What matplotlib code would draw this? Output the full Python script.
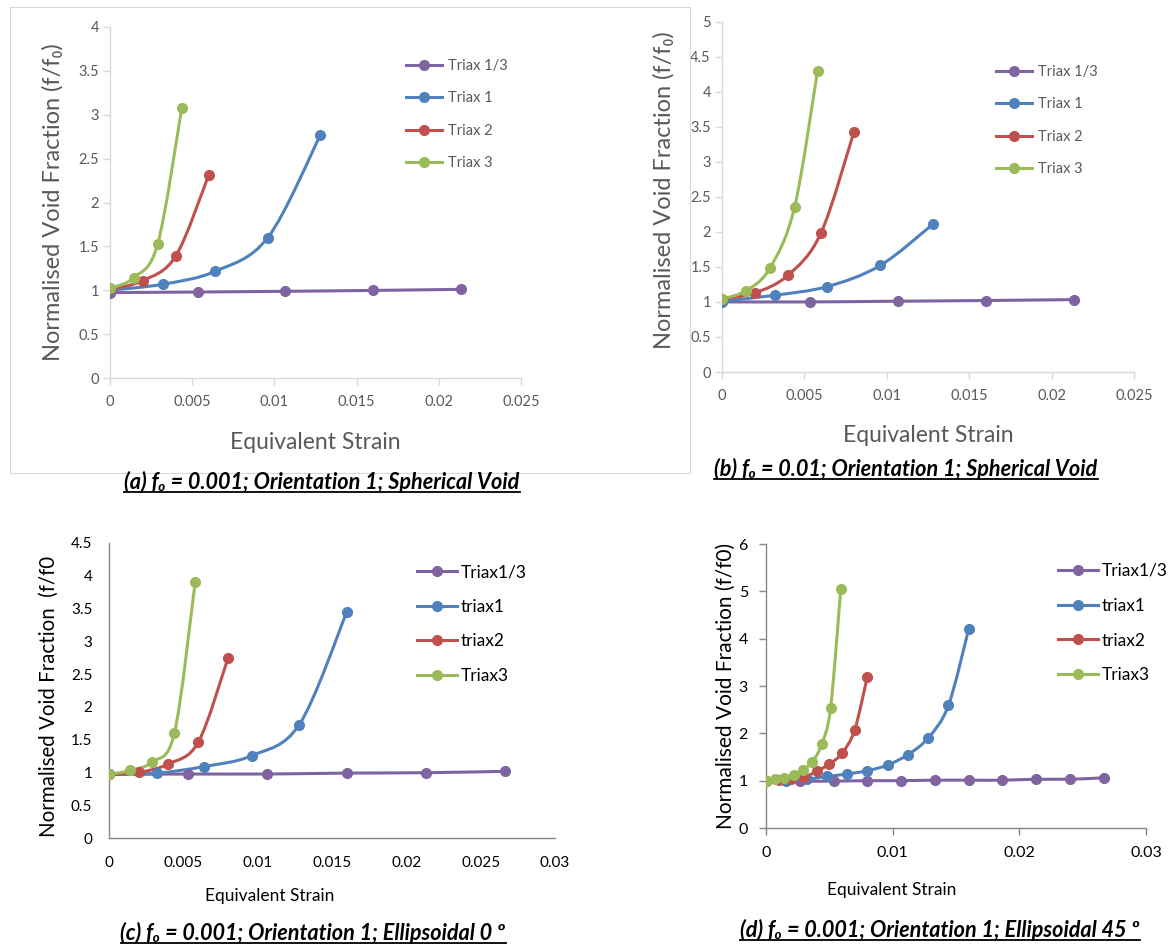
import numpy as np
import matplotlib
matplotlib.use("Agg")
import matplotlib.pyplot as plt
from matplotlib.path import Path
from matplotlib.patches import PathPatch, Rectangle
from matplotlib.lines import Line2D

plt.rcParams['font.family'] = ['Lato', 'DejaVu Sans']

# ---- data ----
# (a) f0 = 0.001, spherical void
a_x13 = [0, 0.00533, 0.01066, 0.016, 0.02133]
a_y13 = [0.973, 0.98, 0.988, 0.998, 1.01]
a_x1 = [0, 0.0032, 0.0064, 0.0096, 0.0128]
a_y1 = [1.0, 1.068, 1.216, 1.6, 2.77]
a_x2 = [0, 0.002, 0.004, 0.006]
a_y2 = [1.01, 1.11, 1.39, 2.31]
a_x3 = [0, 0.00146, 0.0029, 0.00437]
a_y3 = [1.02, 1.144, 1.527, 3.08]

# (b) f0 = 0.01, spherical void
b_x13 = [0, 0.00533, 0.01066, 0.016, 0.02133]
b_y13 = [1.0, 1.0, 1.01, 1.02, 1.033]
b_x1 = [0, 0.0032, 0.0064, 0.0096, 0.0128]
b_y1 = [1.01, 1.095, 1.22, 1.52, 2.11]
b_x2 = [0, 0.002, 0.004, 0.006, 0.008]
b_y2 = [1.04, 1.13, 1.38, 1.98, 3.42]
b_x3 = [0, 0.00146, 0.0029, 0.0044, 0.0058]
b_y3 = [1.04, 1.16, 1.48, 2.35, 4.30]

# (c) f0 = 0.001, ellipsoidal 0 deg
c_x13 = [0, 0.00533, 0.01066, 0.016, 0.02133, 0.02666]
c_y13 = [0.97, 0.976, 0.976, 0.99, 0.996, 1.017]
c_x1 = [0, 0.00325, 0.0064, 0.0096, 0.0128, 0.016]
c_y1 = [0.97, 0.99, 1.09, 1.256, 1.73, 3.45]
c_x2 = [0, 0.002, 0.004, 0.006, 0.008]
c_y2 = [0.97, 1.0, 1.13, 1.46, 2.74]
c_x3 = [0, 0.00144, 0.0029, 0.0044, 0.0058]
c_y3 = [0.97, 1.03, 1.16, 1.6, 3.91]

# (d) f0 = 0.001, ellipsoidal 45 deg
d_x13 = [0, 0.00267, 0.00533, 0.008, 0.01066, 0.01333, 0.016, 0.01866, 0.02133, 0.024, 0.02666]
d_y13 = [1.0, 0.99, 0.99, 1.0, 1.0, 1.01, 1.01, 1.01, 1.03, 1.03, 1.06]
d_x1 = [0, 0.0016, 0.0032, 0.0048, 0.0064, 0.008, 0.0096, 0.0112, 0.0128, 0.0144, 0.016]
d_y1 = [1.0, 1.0, 1.03, 1.09, 1.14, 1.21, 1.33, 1.55, 1.9, 2.59, 4.2]
d_x2 = [0, 0.001, 0.002, 0.003, 0.004, 0.005, 0.006, 0.007, 0.008]
d_y2 = [1.0, 1.01, 1.03, 1.07, 1.2, 1.35, 1.58, 2.07, 3.2]
d_x3 = [0, 0.00073, 0.00146, 0.0022, 0.0029, 0.00366, 0.0044, 0.0051, 0.0059]
d_y3 = [1.0, 1.03, 1.06, 1.11, 1.22, 1.4, 1.77, 2.54, 5.04]

labels_ab = ['Triax 1/3', 'Triax 1', 'Triax 2', 'Triax 3']
labels_cd = ['Triax1/3', 'triax1', 'triax2', 'Triax3']
captions = ['(a) f\u2080 = 0.001; Orientation 1; Spherical Void',
            '(b) f\u2080 = 0.01; Orientation 1; Spherical Void',
            '(c) f\u2080 = 0.001; Orientation 1; Ellipsoidal 0 \u00ba',
            '(d) f\u2080 = 0.001; Orientation 1; Ellipsoidal 45 \u00ba']

colors = ['#8064A2', '#4F81BD', '#C0504D', '#9BBB59']

W, H = 1168, 948
fig = plt.figure(figsize=(W / 100, H / 100), dpi=100)


def px_axes(l, t, r, b):
    return fig.add_axes([l / W, 1 - b / H, (r - l) / W, (b - t) / H])


def smooth_path(x, y):
    # Excel-style smoothed line (Catmull-Rom as cubic bezier)
    p = np.column_stack([x, y]).astype(float)
    n = len(p)
    verts = [p[0]]
    codes = [Path.MOVETO]
    for i in range(n - 1):
        p0 = p[max(i - 1, 0)]
        p1 = p[i]
        p2 = p[i + 1]
        p3 = p[min(i + 2, n - 1)]
        verts += [p1 + (p2 - p0) / 6, p2 - (p3 - p1) / 6, p2]
        codes += [Path.CURVE4] * 3
    return Path(verts, codes)


def panel(ax, series, labels, xmax, xstep, ymax, ystep, txt, spine, fs_tick,
          fs_xlab, fs_ylab, fs_leg, ticklen, xpad, ypad, ylabel, ylab_xy,
          xlab_xy, leg_xy, leg_kw):
    for (x, y), c in zip(series, colors):
        ax.add_patch(PathPatch(smooth_path(x, y), fill=False, ec=c, lw=2.2,
                               capstyle='round', joinstyle='round'))
        ax.plot(x, y, 'o', color=c, ms=7, zorder=3)
    ax.set_xlim(0, xmax)
    ax.set_ylim(0, ymax)
    xt = np.arange(0, xmax + xstep / 2, xstep)
    yt = np.arange(0, ymax + ystep / 2, ystep)
    ax.set_xticks(xt)
    ax.set_xticklabels([f'{v:g}' for v in np.round(xt, 4)])
    ax.set_yticks(yt)
    ax.set_yticklabels([f'{v:g}' for v in np.round(yt, 2)])
    for s in ['top', 'right']:
        ax.spines[s].set_visible(False)
    for s in ['left', 'bottom']:
        ax.spines[s].set_color(spine)
        ax.spines[s].set_linewidth(1)
    ax.tick_params(axis='both', direction='out', length=ticklen, width=1,
                   color=spine, labelcolor=txt, labelsize=fs_tick)
    ax.tick_params(axis='x', pad=xpad)
    ax.tick_params(axis='y', pad=ypad)
    ax.set_ylabel(ylabel, fontsize=fs_ylab, color=txt)
    ax.yaxis.set_label_coords(*ylab_xy)
    ax.set_xlabel('Equivalent Strain', fontsize=fs_xlab, color=txt)
    ax.xaxis.set_label_coords(*xlab_xy)
    handles = [Line2D([], [], color=c, lw=2.2, marker='o', ms=7) for c in colors]
    leg = ax.legend(handles, labels, loc='upper left',
                    bbox_to_anchor=(leg_xy[0] / W, 1 - leg_xy[1] / H),
                    bbox_transform=fig.transFigure, frameon=False,
                    borderpad=0, borderaxespad=0, prop={'size': fs_leg}, **leg_kw)
    for t in leg.get_texts():
        t.set_color(txt)


grey = '#595959'

ax_a = px_axes(110, 27, 521, 378)
panel(ax_a, [(a_x13, a_y13), (a_x1, a_y1), (a_x2, a_y2), (a_x3, a_y3)], labels_ab,
      0.025, 0.005, 4, 0.5, grey, '#D9D9D9', 10.5, 16.5, 17, 10.5, 5, 7, 3,
      'Normalised Void Fraction (f/f\u2080)', (-0.112, 0.5), (0.5, -0.155),
      (406, 59), dict(handlelength=2.5, handletextpad=0.35, labelspacing=1.26))

ax_b = px_axes(722, 21.6, 1134, 372)
panel(ax_b, [(b_x13, b_y13), (b_x1, b_y1), (b_x2, b_y2), (b_x3, b_y3)], labels_ab,
      0.025, 0.005, 5, 0.5, grey, '#D9D9D9', 10.5, 16.5, 17, 10.5, 5, 7, 3,
      'Normalised Void Fraction (f/f\u2080)', (-0.115, 0.52), (0.5, -0.15),
      (996, 65), dict(handlelength=2.5, handletextpad=0.35, labelspacing=1.26))

ax_c = px_axes(109, 543, 555, 838)
panel(ax_c, [(c_x13, c_y13), (c_x1, c_y1), (c_x2, c_y2), (c_x3, c_y3)], labels_cd,
      0.03, 0.005, 4.5, 0.5, 'black', '#868686', 11, 12.5, 14.8, 12.5, 0, 13, 12,
      'Normalised Void Fraction  (f/f0', (-0.112, 0.48), (0.36, -0.17),
      (417, 564), dict(handlelength=2.3, handletextpad=0.2, labelspacing=1.08))

ax_d = px_axes(766, 544, 1146, 828)
panel(ax_d, [(d_x13, d_y13), (d_x1, d_y1), (d_x2, d_y2), (d_x3, d_y3)], labels_cd,
      0.03, 0.01, 6, 1, 'black', '#868686', 11.5, 12.5, 15, 12.5, 5, 8, 8,
      'Normalised Void Fraction (f/f0)', (-0.08, 0.5), (0.33, -0.19),
      (1058, 563), dict(handlelength=2.3, handletextpad=0.2, labelspacing=1.08))

# light frame around panel (a)
fig.add_artist(Rectangle((10 / W, 1 - 473 / H), 680 / W, 466 / H,
                         transform=fig.transFigure, fill=False,
                         ec='#D9D9D9', lw=0.8))

# underlined captions
cap_pos = [(322, 482), (906, 469), (313, 933), (940, 930)]
cap_texts = []
for s, (cx, cy) in zip(captions, cap_pos):
    cap_texts.append(fig.text(cx / W, 1 - cy / H, s, ha='center', va='center',
                              fontsize=15.6, fontweight='bold', fontstyle='italic',
                              color='black'))

fig.canvas.draw()
r = fig.canvas.get_renderer()
for t in cap_texts:
    bb = t.get_window_extent(r)
    y = bb.y0 + 1
    fig.add_artist(Line2D([bb.x0 / W, bb.x1 / W], [y / H, y / H],
                          transform=fig.transFigure, color='black', lw=1.3))

fig.savefig('out.png', dpi=100)
